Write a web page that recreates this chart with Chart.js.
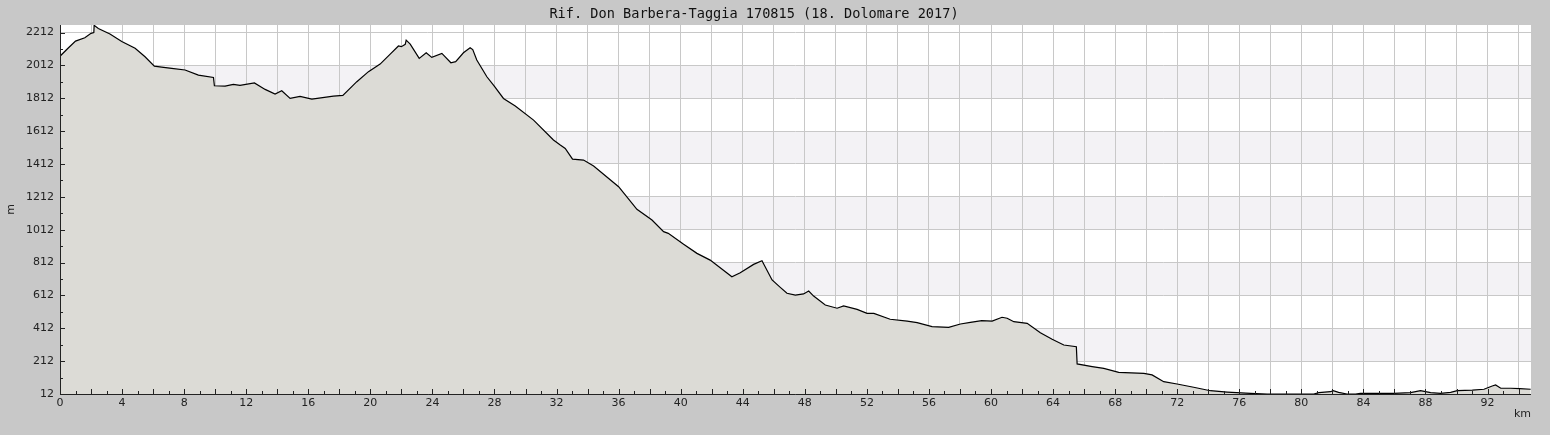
<!DOCTYPE html>
<html>
<head>
<meta charset="utf-8">
<title>Rif. Don Barbera-Taggia 170815</title>
<script src="https://cdn.jsdelivr.net/npm/chart.js@4.4.1/dist/chart.umd.min.js"></script>
<style>
  html, body { margin: 0; padding: 0; background: #c8c8c8; }
  #wrap { width: 1550px; height: 435px; }
</style>
</head>
<body>
<div id="wrap"><canvas id="profilo" width="1550" height="435"></canvas></div>
<script>
const titolo = 'Rif. Don Barbera-Taggia 170815 (18. Dolomare 2017)';

const distKm = [
  0, 0.5, 1.0, 1.6, 2.0, 2.18, 2.2, 2.47, 3.22, 3.98, 4.84, 5.48, 6.08, 6.55, 7.2, 8.06,
  8.92, 9.89, 9.95, 10.64, 11.17, 11.6, 12.53, 13.22, 13.86, 14.29, 14.83, 15.47, 16.23,
  17.62, 18.23, 19.13, 19.88, 20.63, 21.28, 21.81, 22.0, 22.25, 22.31, 22.57, 23.15, 23.6,
  23.96, 24.61, 25.19, 25.5, 26.0, 26.43, 26.6, 26.86, 27.51, 28.0, 28.58, 29.34, 30.52,
  31.8, 32.24, 32.56, 33.03, 33.74, 34.39, 36.0, 37.18, 38.15, 38.9, 39.2, 40.19, 41.05,
  41.9, 43.3, 43.84, 44.7, 45.24, 45.89, 46.42, 46.85, 47.39, 47.92, 48.25, 48.57, 49.32,
  50.08, 50.5, 51.37, 52.01, 52.45, 53.5, 54.6, 55.24, 56.2, 57.27, 58.03, 58.67, 59.4,
  60.07, 60.71, 61.04, 61.47, 62.33, 63.18, 63.94, 64.69, 65.5, 65.55, 66.52, 67.27, 68.23,
  69.85, 70.38, 71.13, 71.99, 73.06, 74.14, 75.22, 76.72, 77.8, 80.8, 81.13, 81.88, 82.05,
  82.4, 82.94, 83.5, 83.8, 85.96, 87.04, 87.68, 88.33, 88.97, 89.62, 90.05, 91.02, 91.77,
  92.3, 92.52, 92.85, 93.49, 94.07, 94.78
];
const quotaM = [
  2068, 2115, 2160, 2180, 2207, 2212, 2256, 2237, 2203, 2158, 2116, 2065, 2008, 2002, 1994, 1984,
  1953, 1939, 1888, 1886, 1897, 1890, 1905, 1866, 1838, 1858, 1811, 1824, 1807,
  1825, 1830, 1913, 1974, 2020, 2081, 2130, 2126, 2140, 2166, 2142, 2055, 2089,
  2061, 2085, 2028, 2035, 2089, 2120, 2108, 2045, 1943, 1885, 1811, 1765, 1679,
  1558, 1527, 1507, 1442, 1436, 1400, 1274, 1136, 1071, 1000, 990, 923, 868,
  827, 726, 750, 801, 823, 706, 661, 625, 614, 621, 639, 608, 554,
  534, 548, 527, 503, 503, 467, 456, 446, 422, 418, 438, 448, 458,
  456, 479, 473, 452, 442, 385, 345, 310, 300, 195, 179, 168, 144,
  138, 128, 87, 73, 53, 32, 24, 16, 12, 12, 20, 26, 32,
  22, 12, 12, 16, 16, 20, 32, 20, 16, 22, 32, 36, 41,
  61, 67, 47, 47, 45, 41
];

const kmTicks = [0, 2, 4, 6, 8, 10, 12, 14, 16, 18, 20, 22, 24, 26, 28, 30, 32, 34, 36, 38, 40,
  42, 44, 46, 48, 50, 52, 54, 56, 58, 60, 62, 64, 66, 68, 70, 72, 74, 76, 78, 80, 82, 84, 86,
  88, 90, 92, 94];
const mTicks = [12, 212, 412, 612, 812, 1012, 1212, 1412, 1612, 1812, 2012, 2212];

const kmMax = 94.8;
const mMin = 12;
const mMax = 2258;

const fontAssi = { family: 'DejaVu Sans', size: 11 };

// sfondo, fasce alterne, tacche interne e titolo
const cornice = {
  id: 'cornice',
  beforeDraw(chart) {
    const { ctx, chartArea: a, scales: { y } } = chart;
    ctx.save();
    ctx.fillStyle = '#c8c8c8';
    ctx.fillRect(0, 0, chart.width, chart.height);
    ctx.fillStyle = '#ffffff';
    ctx.fillRect(a.left, a.top, a.right - a.left, a.bottom - a.top);
    ctx.fillStyle = '#f3f2f5';
    for (let i = 1; i < mTicks.length - 1; i += 2) {
      const y0 = y.getPixelForValue(mTicks[i]);
      const y1 = y.getPixelForValue(mTicks[i + 1]);
      ctx.fillRect(a.left, y1, a.right - a.left, y0 - y1);
    }
    ctx.restore();
  },
  afterDatasetsDraw(chart) {
    const { ctx, chartArea: a, scales: { x, y } } = chart;
    ctx.save();
    ctx.strokeStyle = '#222';
    ctx.lineWidth = 1;
    ctx.beginPath();
    ctx.moveTo(a.left + 0.5, a.top);
    ctx.lineTo(a.left + 0.5, a.bottom + 0.5);
    ctx.lineTo(a.right, a.bottom + 0.5);
    // tacche km: ogni 1, lunghe ogni 2
    for (let k = 0; k <= kmMax; k++) {
      const px = Math.round(x.getPixelForValue(k)) + 0.5;
      const len = k % 2 === 0 ? 5 : 3;
      ctx.moveTo(px, a.bottom);
      ctx.lineTo(px, a.bottom - len);
    }
    // tacche m: ogni 100, lunghe ogni 200
    for (let v = mMin; v <= mMax; v += 100) {
      const py = Math.round(y.getPixelForValue(v)) + 0.5;
      const len = (v - mMin) % 200 === 0 ? 5 : 3;
      ctx.moveTo(a.left, py);
      ctx.lineTo(a.left + len, py);
    }
    ctx.stroke();

    ctx.fillStyle = '#111';
    ctx.font = '13.6px "DejaVu Sans Mono", monospace';
    ctx.textAlign = 'center';
    ctx.textBaseline = 'middle';
    ctx.fillText(titolo, 754, 14);
    ctx.restore();
  }
};

new Chart(document.getElementById('profilo'), {
  type: 'line',
  data: {
    datasets: [{
      data: distKm.map((d, i) => ({ x: d, y: quotaM[i] })),
      borderColor: '#000',
      borderWidth: 1.2,
      backgroundColor: '#dcdbd6',
      fill: 'start',
      pointRadius: 0,
      tension: 0
    }]
  },
  options: {
    responsive: false,
    animation: false,
    events: [],
    layout: { padding: { top: 25, right: 19, left: 0, bottom: 0 } },
    plugins: {
      legend: { display: false },
      tooltip: { enabled: false },
      title: { display: false }
    },
    scales: {
      x: {
        type: 'linear',
        min: 0,
        max: kmMax,
        afterBuildTicks: s => { s.ticks = kmTicks.map(v => ({ value: v })); },
        afterFit: s => { s.height = 41; },
        grid: { color: '#c8c8c8', drawTicks: false },
        border: { display: false },
        ticks: {
          autoSkip: false,
          maxRotation: 0,
          padding: 3,
          color: '#222',
          font: fontAssi,
          callback: v => (v % 4 === 0 ? String(v) : '')
        },
        title: {
          display: true,
          text: 'km',
          align: 'end',
          color: '#222',
          font: fontAssi,
          padding: { top: 0, bottom: 14 }
        }
      },
      y: {
        min: mMin,
        max: mMax,
        afterBuildTicks: s => { s.ticks = mTicks.map(v => ({ value: v })); },
        afterFit: s => { s.width = 60; },
        grid: { color: '#c8c8c8', drawTicks: false },
        border: { display: false },
        ticks: {
          padding: 6,
          color: '#222',
          font: fontAssi,
          callback: v => String(v)
        },
        title: {
          display: true,
          text: 'm',
          color: '#222',
          font: fontAssi,
          padding: { top: 5, bottom: 0 }
        }
      }
    }
  },
  plugins: [cornice]
});
</script>
</body>
</html>
